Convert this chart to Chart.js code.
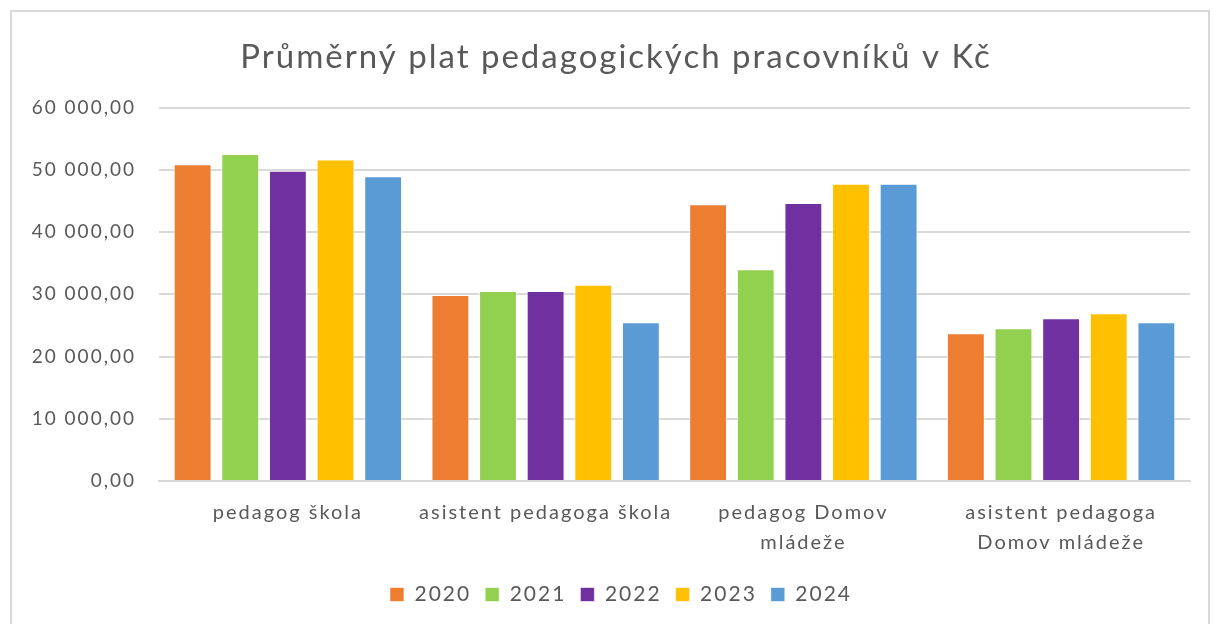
<!DOCTYPE html>
<html>
<head>
<meta charset="utf-8">
<script src="https://cdn.jsdelivr.net/npm/chart.js@4/dist/chart.umd.min.js"></script>
<style>
html,body{margin:0;padding:0;background:#fff;width:1216px;height:624px;overflow:hidden;}
#frame{position:absolute;left:10px;top:10px;width:1196px;height:620px;border-left:2px solid #d9d9d9;border-top:2px solid #d9d9d9;border-right:2px solid #d9d9d9;background:#fff;}
#wrap{position:absolute;left:0;top:0;width:1196px;height:612px;}
</style>
</head>
<body>
<div id="frame"><div id="wrap"><canvas id="c"></canvas></div></div>
<script>
const categories = [
  "pedagog škola",
  "asistent pedagoga škola",
  ["pedagog Domov", "mládeže"],
  ["asistent pedagoga", "Domov mládeže"]
];
const years = ["2020", "2021", "2022", "2023", "2024"];
const values2020 = [50900, 29900, 44450, 23730];
const values2021 = [52540, 30530, 34030, 24540];
const values2022 = [49840, 30530, 44660, 26160];
const values2023 = [51670, 31550, 47780, 26970];
const values2024 = [48980, 25520, 47780, 25510];
const colors = ["#ED7D31", "#92D050", "#7030A0", "#FFC000", "#5B9BD5"];
const yTicks = [0, 10000, 20000, 30000, 40000, 50000, 60000];

function fmt(v){
  const s = Math.round(v).toString().replace(/\B(?=(\d{3})+(?!\d))/g, " ");
  return s + ",00";
}

const seriesValues = [values2020, values2021, values2022, values2023, values2024];
const FONT = "Lato, 'Open Sans', sans-serif";

const spacingPlugin = {
  id: "spacing",
  beforeLayout(chart){ chart.ctx.letterSpacing = "2px"; },
  afterLayout(chart){
    if (chart.titleBlock) { chart.titleBlock.left += 15; chart.titleBlock.right += 15; }
    if (chart.legend) { chart.legend.left += 20; chart.legend.right += 20; }
  },
  beforeDraw(chart){ chart.ctx.letterSpacing = "2px"; }
};

new Chart(document.getElementById("c"), {
  type: "bar",
  plugins: [spacingPlugin],
  data: {
    labels: categories,
    datasets: years.map((y, i) => ({
      label: y,
      data: seriesValues[i],
      backgroundColor: colors[i],
      borderColor: "rgba(255,255,255,0.6)",
      borderWidth: 1,
      categoryPercentage: 0.924,
      barPercentage: 0.795
    }))
  },
  options: {
    responsive: true,
    maintainAspectRatio: false,
    animation: false,
    layout: { padding: { left: 0, right: 18, top: 26, bottom: 9 } },
    plugins: {
      title: {
        display: true,
        text: "Průměrný plat pedagogických pracovníků v Kč",
        color: "#595959",
        font: { family: FONT, size: 33, weight: "normal" },
        padding: { top: 0, bottom: 30 }
      },
      legend: {
        position: "bottom",
        labels: {
          color: "#595959",
          font: { family: FONT, size: 21 },
          boxWidth: 14,
          boxHeight: 14,
          padding: 14,
          useBorderRadius: false
        }
      },
      tooltip: { enabled: false }
    },
    scales: {
      x: {
        grid: { display: false },
        border: { display: true, color: "#d9d9d9", width: 2 },
        afterFit: (s) => { s.height += 3; },
        ticks: {
          color: "#595959",
          font: { family: FONT, size: 20, lineHeight: 1.5 },
          maxRotation: 0,
          autoSkip: false,
          padding: 9
        }
      },
      y: {
        min: 0,
        max: 60000,
        afterBuildTicks: (s) => { s.ticks = yTicks.map(v => ({ value: v })); },
        afterFit: (s) => { s.width = 147; },
        grid: { color: "#d9d9d9", lineWidth: 2, drawTicks: false },
        border: { display: false },
        ticks: {
          color: "#595959",
          font: { family: FONT, size: 19 },
          padding: 23,
          callback: (v) => fmt(v)
        }
      }
    }
  }
});
</script>
</body>
</html>
